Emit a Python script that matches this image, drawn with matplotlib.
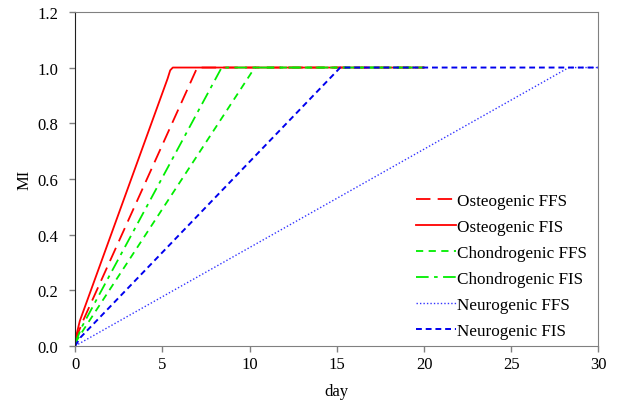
import numpy as np
import matplotlib.pyplot as plt

plt.rcParams['font.family'] = ['Liberation Serif', 'DejaVu Serif']

# day / MI values
ost_ffs_x = [0, 0.45, 7.0, 20]
ost_ffs_y = [0.02, 0.09, 1.0, 1.0]

ost_fis_x = [0, 0.27, 5.3, 5.45, 5.6, 5.8, 20]
ost_fis_y = [0.02, 0.09, 0.96, 0.99, 1.0, 1.0, 1.0]

cho_ffs_x = [0, 0.5, 10.3, 20]
cho_ffs_y = [0.01, 0.06, 1.0, 1.0]

cho_fis_x = [0, 0.4, 8.4, 20]
cho_fis_y = [0.01, 0.07, 1.0, 1.0]

neu_ffs_x = [0, 28.3, 30]
neu_ffs_y = [0.0, 1.0, 1.0]

neu_fis_x = [0, 0.3, 15.2, 30]
neu_fis_y = [0.0, 0.03, 1.0, 1.0]

fig = plt.figure(figsize=(6.26, 4.02), dpi=100)
ax = fig.add_axes([0.12, 0.137, 0.836, 0.831])

ax.plot(ost_ffs_x, ost_ffs_y, color='#ff0000', lw=1.3, dashes=(8, 4), label='Osteogenic FFS')
ax.plot(ost_fis_x, ost_fis_y, color='#ff0000', lw=1.3, label='Osteogenic FIS')
ax.plot(cho_ffs_x, cho_ffs_y, color='#00ee00', lw=1.3, dashes=(4, 3), label='Chondrogenic FFS')
ax.plot(cho_fis_x, cho_fis_y, color='#00ee00', lw=1.3, dashes=(7, 3, 2, 3), label='Chondrogenic FIS')
ax.plot(neu_ffs_x, neu_ffs_y, color='#3333ff', lw=1.0, dashes=(1, 1.5), label='Neurogenic FFS')
ax.plot(neu_fis_x, neu_fis_y, color='#0000ee', lw=1.4, dashes=(3, 2), label='Neurogenic FIS')

ax.set_xlim(0, 30)
ax.set_ylim(0, 1.2)
ax.set_xticks(np.arange(0, 31, 5))
ax.set_yticks(np.arange(0, 1.21, 0.2))
ax.set_yticklabels(['%.1f' % v for v in np.arange(0, 1.21, 0.2)])
ax.set_xlabel('day', fontsize=12, labelpad=8)
ax.set_ylabel('MI', fontsize=12, labelpad=4)
ax.tick_params(labelsize=12, direction='out', length=4, width=1, color='#808080')
ax.tick_params(axis='y', pad=8)

for s in ['top', 'right', 'bottom']:
    ax.spines[s].set_color('#808080')
ax.spines['left'].set_color('#202020')

ax.legend(loc='lower right', bbox_to_anchor=(1.008, -0.025), frameon=False, fontsize=12.3,
          handlelength=2.3, handletextpad=0.1, labelspacing=0.58)

fig.savefig('out.png', dpi=100)
